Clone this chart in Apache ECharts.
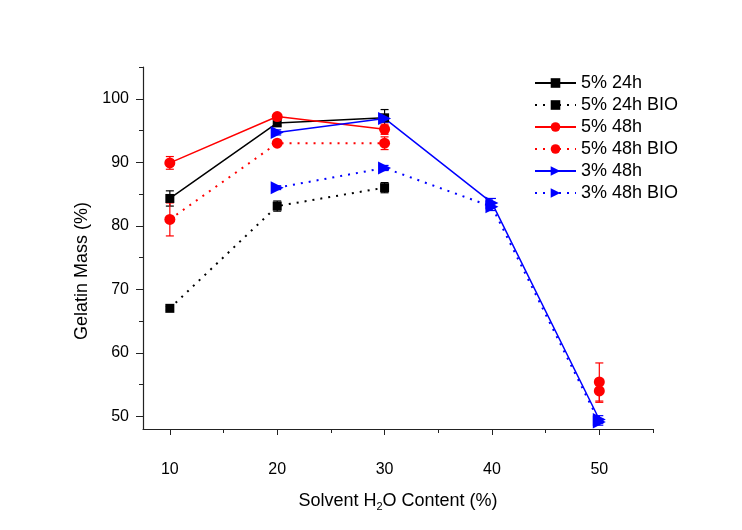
<!DOCTYPE html>
<html>
<head>
<meta charset="utf-8">
<script src="https://cdn.jsdelivr.net/npm/echarts@6/dist/echarts.min.js"></script>
<style>
html,body{margin:0;padding:0;background:#fff;}
#chart{width:742px;height:530px;}
</style>
</head>
<body>
<div id="chart"></div>
<script>
// ---- data ----
var waterContent = [10, 20, 30, 40, 50];
var xMajorTicks = [10, 20, 30, 40, 50];
var xMinorTicks = [15, 25, 35, 45, 55];
var yMajorTicks = [50, 60, 70, 80, 90, 100];
var yMinorTicks = [55, 65, 75, 85, 95, 105];

var seriesNames = ['5% 24h', '5% 24h BIO', '5% 48h', '5% 48h BIO', '3% 48h', '3% 48h BIO'];

var mass5pct24h      = [84.3, 96.2, 97.0, null, null];
var mass5pct24hBIO   = [67.0, 83.1, 86.0, null, null];
var mass5pct48h      = [89.9, 97.2, 95.2, null, 55.4];
var mass5pct48hBIO   = [81.0, 93.0, 93.0, null, 54.0];
var mass3pct48h      = [null, 94.7, 96.9, 83.6, 49.5];
var mass3pct48hBIO   = [null, 86.0, 89.1, 83.0, 49.1];

var err5pct24h      = [1.2, 0.5, 1.3, null, null];
var err5pct24hBIO   = [0.3, 0.8, 0.8, null, null];
var err5pct48h      = [1.0, 0.4, 0.8, null, 3.0];
var err5pct48hBIO   = [2.6, 0.3, 1.0, null, 1.8];
var err3pct48h      = [null, 0.4, 0.6, 0.7, 0.6];
var err3pct48hBIO   = [null, 0.3, 0.4, 0.6, 0.5];

// ---- build ----
var values = [mass5pct24h, mass5pct24hBIO, mass5pct48h, mass5pct48hBIO, mass3pct48h, mass3pct48hBIO];
var errors = [err5pct24h, err5pct24hBIO, err5pct48h, err5pct48hBIO, err3pct48h, err3pct48hBIO];
var colors = ['#000000', '#000000', '#ff0000', '#ff0000', '#0000ff', '#0000ff'];
var symbols = ['rect', 'rect', 'circle', 'circle', 'triangle', 'triangle'];
var symbolSizes = [9, 9, 11, 11, 13, 13];
var symbolRot = [0, 0, 0, 0, -90, -90];
var dotted = [false, true, false, true, false, true];

var FONT = 'Liberation Sans, Arial, sans-serif';

function pairs(arr) {
  return waterContent.map(function (x, i) { return [x, arr[i]]; });
}
function errData(arr, err) {
  var out = [];
  waterContent.forEach(function (x, i) {
    if (arr[i] != null && err[i] != null) out.push([x, arr[i], err[i]]);
  });
  return out;
}

var series = [];
values.forEach(function (v, k) {
  series.push({
    name: 'err-' + seriesNames[k],
    type: 'custom',
    xAxisIndex: 0, yAxisIndex: 0,
    z: 2,
    silent: true,
    data: errData(v, errors[k]),
    renderItem: (function (col) {
      return function (params, api) {
        var x = api.value(0), y = api.value(1), e = api.value(2);
        var hi = api.coord([x, y + e]);
        var lo = api.coord([x, y - e]);
        var w = 4;
        var st = { stroke: col, lineWidth: 1.2 };
        return {
          type: 'group',
          children: [
            { type: 'line', shape: { x1: hi[0], y1: hi[1], x2: lo[0], y2: lo[1] }, style: st },
            { type: 'line', shape: { x1: hi[0] - w, y1: hi[1], x2: hi[0] + w, y2: hi[1] }, style: st },
            { type: 'line', shape: { x1: lo[0] - w, y1: lo[1], x2: lo[0] + w, y2: lo[1] }, style: st }
          ]
        };
      };
    })(colors[k])
  });
});
values.forEach(function (v, k) {
  series.push({
    name: seriesNames[k],
    type: 'line',
    xAxisIndex: 0, yAxisIndex: 0,
    z: 3,
    data: pairs(v),
    connectNulls: false,
    symbol: symbols[k],
    symbolSize: symbolSizes[k],
    symbolRotate: symbolRot[k],
    showAllSymbol: true,
    itemStyle: { color: colors[k], borderWidth: 0 },
    lineStyle: { color: colors[k], width: dotted[k] ? 2 : 1.5, type: dotted[k] ? [2, 6] : 'solid' },
    emphasis: { disabled: true },
    animation: false
  });
});

var chart = echarts.init(document.getElementById('chart'));
chart.setOption({
  animation: false,
  backgroundColor: '#ffffff',
  textStyle: { fontFamily: FONT },
  grid: { left: 143, right: 89, top: 67, bottom: 101 },
  legend: {
    data: seriesNames,
    orient: 'vertical',
    left: 534,
    top: 74,
    padding: 0,
    itemWidth: 41,
    itemHeight: 12,
    itemGap: 4,
    textStyle: { fontFamily: FONT, fontSize: 18, color: '#000', padding: [0, 0, 0, 0] },
    selectedMode: false
  },
  xAxis: [{
    type: 'value',
    min: 7.5, max: 55,
    splitLine: { show: false },
    axisLine: { show: true, onZero: false, lineStyle: { color: '#222', width: 1.2 } },
    axisTick: { show: true, length: 6, customValues: xMajorTicks, lineStyle: { color: '#222' } },
    axisLabel: { customValues: xMajorTicks, margin: 33, fontSize: 16, color: '#000', fontFamily: FONT },
    name: '{a|Solvent H}{s|2}{a|O Content (%)}',
    nameLocation: 'middle',
    nameGap: 62,
    nameTextStyle: {
      rich: {
        a: { fontSize: 18, color: '#000', fontFamily: FONT },
        s: { fontSize: 11, color: '#000', fontFamily: FONT, verticalAlign: 'bottom', padding: [10, 0, 0, 0] }
      }
    }
  }, {
    type: 'value',
    min: 7.5, max: 55,
    position: 'bottom',
    splitLine: { show: false },
    axisLine: { show: false },
    axisTick: { show: true, length: 4, customValues: xMinorTicks, lineStyle: { color: '#222' } },
    axisLabel: { show: false }
  }],
  yAxis: [{
    type: 'value',
    min: 48, max: 105,
    splitLine: { show: false },
    axisLine: { show: true, onZero: false, lineStyle: { color: '#222', width: 1.2 } },
    axisTick: { show: true, length: 7, customValues: yMajorTicks, lineStyle: { color: '#222' } },
    axisLabel: { customValues: yMajorTicks, margin: 14, fontSize: 16, color: '#000', fontFamily: FONT },
    name: 'Gelatin Mass (%)',
    nameLocation: 'middle',
    nameGap: 51,
    nameTextStyle: { fontSize: 18, color: '#000', fontFamily: FONT, padding: [0, 46, 0, 0] }
  }, {
    type: 'value',
    min: 48, max: 105,
    position: 'left',
    splitLine: { show: false },
    axisLine: { show: false },
    axisTick: { show: true, length: 4, customValues: yMinorTicks, lineStyle: { color: '#222' } },
    axisLabel: { show: false }
  }],
  series: series
});
</script>
</body>
</html>
